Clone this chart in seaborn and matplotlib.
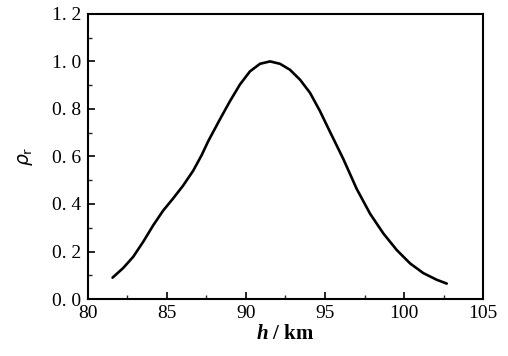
import numpy as np
import pandas as pd
import matplotlib
matplotlib.use("Agg")
import matplotlib.pyplot as plt
import seaborn as sns
from matplotlib.ticker import MultipleLocator

# Data
h_km = [81.56, 82.24, 82.87, 83.50, 84.13, 84.77, 85.40, 86.03, 86.66, 87.20,
        87.61, 88.35, 88.99, 89.62, 90.25, 90.89, 91.52, 92.15, 92.78, 93.42,
        94.05, 94.68, 95.32, 96.16, 97.00, 97.85, 98.69, 99.54, 100.38, 101.22,
        102.07, 102.70]
rho_r = [0.090, 0.131, 0.178, 0.241, 0.310, 0.373, 0.424, 0.478, 0.540, 0.606,
         0.664, 0.756, 0.833, 0.903, 0.958, 0.990, 1.000, 0.990, 0.965, 0.923,
         0.868, 0.791, 0.703, 0.589, 0.464, 0.359, 0.276, 0.206, 0.150, 0.109,
         0.081, 0.065]
xticks = [80, 85, 90, 95, 100, 105]
xtick_labels = ["80", "85", "90", "95", "100", "105"]
yticks = [0.0, 0.2, 0.4, 0.6, 0.8, 1.0, 1.2]
ytick_labels = ["0. 0", "0. 2", "0. 4", "0. 6", "0. 8", "1. 0", "1. 2"]

df = pd.DataFrame({"h": h_km, "rho": rho_r})

sns.set_theme(style="white")
plt.rcParams["font.family"] = ["Liberation Serif", "DejaVu Serif"]
plt.rcParams["mathtext.fontset"] = "custom"
plt.rcParams["mathtext.it"] = "Liberation Serif:italic:bold"
plt.rcParams["mathtext.rm"] = "Liberation Serif:bold"

fig = plt.figure(figsize=(5.08, 3.56), dpi=100)
ax = fig.add_axes([0.173, 0.160, 0.778, 0.801])

sns.lineplot(data=df, x="h", y="rho", ax=ax, color="black",
             linewidth=1.9, sort=False)
for ln in ax.get_lines():
    ln.set_solid_joinstyle("round")
    ln.set_solid_capstyle("round")

ax.set_xlim(80, 105)
ax.set_ylim(0, 1.2)
ax.set_xticks(xticks)
ax.set_xticklabels(xtick_labels)
ax.set_yticks(yticks)
ax.set_yticklabels(ytick_labels)
ax.xaxis.set_minor_locator(MultipleLocator(2.5))
ax.yaxis.set_minor_locator(MultipleLocator(0.1))
ax.tick_params(axis="both", which="major", direction="in", length=5, width=1.2,
               labelsize=14, colors="black",
               top=False, right=False, bottom=True, left=True)
ax.tick_params(axis="x", which="major", pad=4)
ax.tick_params(axis="y", which="major", pad=5)
ax.tick_params(axis="both", which="minor", direction="in", length=3, width=1.0,
               top=False, right=False, bottom=True, left=True)
for s in ax.spines.values():
    s.set_color("black")
    s.set_linewidth(1.5)

ax.set_xlabel(r"$h$ / km", fontsize=15, fontweight="bold", labelpad=2,
              color="black", math_fontfamily="custom")
ax.set_ylabel(r"$\rho_{\mathrm{r}}$", fontsize=13.5, labelpad=12, color="black",
              math_fontfamily="dejavusans")

fig.savefig("out.png", dpi=100)
